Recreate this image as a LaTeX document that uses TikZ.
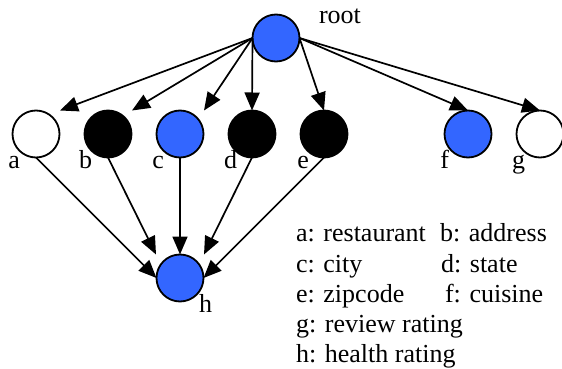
\documentclass[tikz,border=0pt]{standalone}
\usepackage{fontspec}
\setmainfont{Liberation Serif}
\usetikzlibrary{arrows.meta}
\definecolor{varblue}{HTML}{3366FF}

\begin{document}
\begin{tikzpicture}[x=1pt,y=-1pt,
  every node/.style={inner sep=0pt, outer sep=0pt, font=\rmfamily\fontsize{26}{30}\selectfont},
  var/.style={circle, draw, line width=1.8pt, minimum size=47pt},
  lbl/.style={anchor=base east},
  key/.style={anchor=base west},
  edge/.style={line width=1.7pt, -{Triangle[length=18pt,width=15pt]}}]
\useasboundingbox (0,0) rectangle (562,369);

\node[var, fill=varblue] (root) at (276,38) {};
\node[var, fill=white] (a) at (36,134) {};
\node[var, fill=black] (b) at (108,134) {};
\node[var, fill=varblue] (c) at (180,134) {};
\node[var, fill=black] (d) at (252,134) {};
\node[var, fill=black] (e) at (324,134) {};
\node[var, fill=varblue] (f) at (468,134) {};
\node[var, fill=white] (g) at (540,134) {};
\node[var, fill=varblue] (h) at (180,278) {};

\node[key] (lroot) at (319,24) {root};
\node[lbl] (la) at (20,168) {a};
\node[lbl] (lb) at (92,168) {b};
\node[lbl] (lc) at (164,168) {c};
\node[lbl] (ld) at (237,168) {d};
\node[lbl] (le) at (309,168) {e};
\node[lbl] (lf) at (449,168) {f};
\node[lbl] (lg) at (525,168) {g};
\node[key] (lh) at (199,312) {h};

\draw[edge] (root.west) -- ([xshift=24pt]a.north);
\draw[edge] (root.west) -- ([xshift=24pt]b.north);
\draw[edge] (root.west) -- ([xshift=24pt]c.north);
\draw[edge] (root.west) -- (d.north);
\draw[edge] (root.east) -- (e.north);
\draw[edge] (root.east) -- (f.north);
\draw[edge] (root.east) -- (g.north);

\draw[edge] (a.south) -- (h.west);
\draw[edge] (b.south) -- ([xshift=-24pt]h.north);
\draw[edge] (c.south) -- (h.north);
\draw[edge] (d.south) -- ([xshift=24pt]h.north);
\draw[edge] (e.south) -- (h.east);

% legend
\node[key] (ka) at (296,241) {a: restaurant};
\node[key] (kb) at (440,241) {b: address};
\node[key] (kc) at (296,272) {c: city};
\node[key] (kd) at (441,272) {d: state};
\node[key] (ke) at (296,302) {e: zipcode};
\node[key] (kf) at (445,302) {f: cuisine};
\node[key] (kg) at (296,332) {g: review rating};
\node[key] (kh) at (296,362) {h: health rating};
\end{tikzpicture}
\end{document}
